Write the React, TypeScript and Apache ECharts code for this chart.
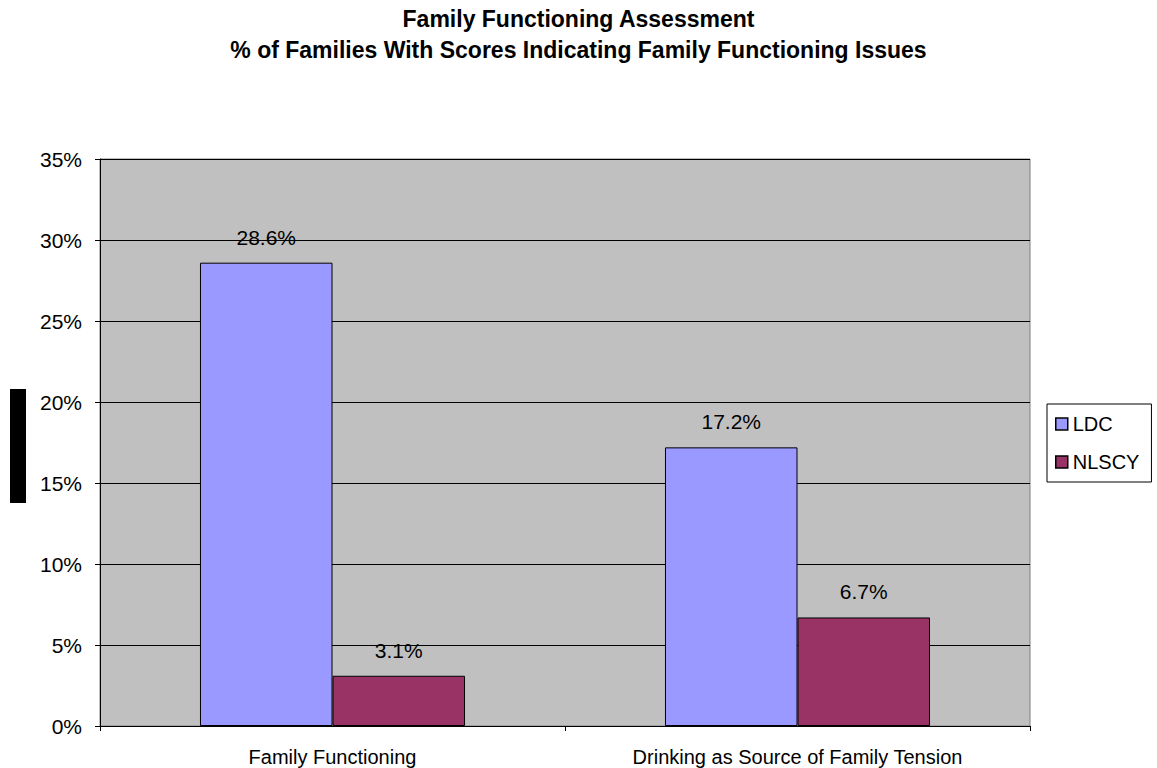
import React, { useEffect, useRef } from "react";
import * as echarts from "echarts";

const categories = ["Family Functioning", "Drinking as Source of Family Tension"];
const ldcValues = [28.6, 17.2];
const nlscyValues = [3.1, 6.7];
const yTicks = [0, 5, 10, 15, 20, 25, 30, 35];
const titleLines = [
  "Family Functioning Assessment",
  "% of Families With Scores Indicating Family Functioning Issues",
];

const FONT = "'Liberation Sans', Arial, sans-serif";

export default function App() {
  const ref = useRef<HTMLDivElement>(null);
  useEffect(() => {
    if (!ref.current) return;
    const chart = echarts.init(ref.current, null, { renderer: "svg" });
    const labelFmt = (p: any) => `${Number(p.value).toFixed(1)}%`;
    const barLabel = {
      show: true,
      position: "top",
      distance: 15,
      fontFamily: FONT,
      fontSize: 21,
      color: "#000",
      formatter: labelFmt,
    };
    chart.setOption({
      animation: false,
      backgroundColor: "#ffffff",
      textStyle: { fontFamily: FONT },
      title: {
        text: titleLines.join("\n"),
        left: "center",
        top: 3,
        padding: 0,
        textStyle: {
          fontFamily: FONT,
          fontSize: 23,
          fontWeight: "bold",
          color: "#000",
          lineHeight: 31,
        },
      },
      graphic: [
        {
          type: "rect",
          shape: { x: 10, y: 389, width: 16, height: 114 },
          style: { fill: "#000" },
        },
      ],
      legend: {
        left: 1047,
        top: 404,
        orient: "vertical",
        backgroundColor: "#ffffff",
        borderColor: "#000",
        borderWidth: 1,
        padding: [10, 12, 10, 8],
        itemGap: 18,
        itemWidth: 12,
        itemHeight: 12,
        itemStyle: { borderColor: "#000", borderWidth: 1.5 },
        icon: "rect",
        textStyle: { fontFamily: FONT, fontSize: 20, color: "#000" },
        data: ["LDC", "NLSCY"],
      },
      grid: {
        left: 100,
        top: 159,
        width: 930,
        height: 567,
        show: true,
        backgroundColor: "#c0c0c0",
        borderColor: "#808080",
        borderWidth: 1,
      },
      xAxis: {
        type: "category",
        data: categories,
        axisLine: { show: true, lineStyle: { color: "#000", width: 1 } },
        axisTick: { show: true, length: 5, lineStyle: { color: "#000" } },
        axisLabel: {
          fontFamily: FONT,
          fontSize: 20,
          color: "#000",
          margin: 21,
        },
        splitLine: { show: false },
      },
      yAxis: {
        type: "value",
        min: yTicks[0],
        max: yTicks[yTicks.length - 1],
        interval: 5,
        axisLine: { show: true, lineStyle: { color: "#000", width: 1 } },
        axisTick: { show: true, length: 5, lineStyle: { color: "#000" } },
        axisLabel: {
          fontFamily: FONT,
          fontSize: 21,
          color: "#000",
          margin: 18,
          formatter: (v: number) => `${v}%`,
        },
        splitLine: { show: true, lineStyle: { color: "#000", width: 1 } },
      },
      series: [
        {
          name: "LDC",
          type: "bar",
          data: ldcValues,
          barGap: "0%",
          barCategoryGap: "43%",
          itemStyle: { color: "#9999ff", borderColor: "#000", borderWidth: 1 },
          label: barLabel,
        },
        {
          name: "NLSCY",
          type: "bar",
          data: nlscyValues,
          barGap: "0%",
          barCategoryGap: "43%",
          itemStyle: { color: "#993366", borderColor: "#000", borderWidth: 1 },
          label: barLabel,
        },
      ],
    });
    return () => chart.dispose();
  }, []);
  return (
    <div
      ref={ref}
      style={{ position: "absolute", left: 0, top: 0, width: 1157, height: 768 }}
    />
  );
}
